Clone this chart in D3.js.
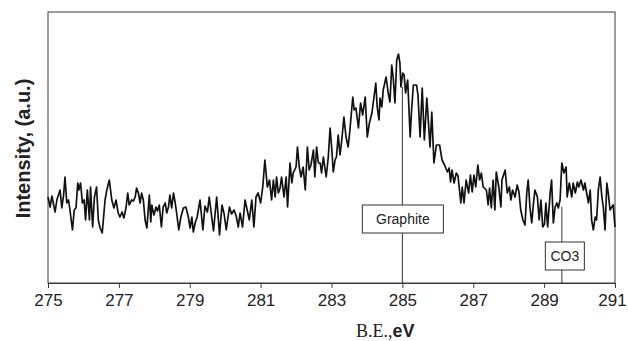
<!DOCTYPE html>
<html>
<head>
<meta charset="utf-8">
<script src="https://cdn.jsdelivr.net/npm/d3@7"></script>
<style>
  body { margin: 0; background: #fff; }
</style>
</head>
<body>
<div id="canvas"></div>
<script>
"use strict"

// DATA - binding energy (eV) and intensity (a.u.)
let bindingEnergy = [
  275.00, 275.06, 275.11, 275.20, 275.25, 275.34, 275.39, 275.44, 275.48, 275.53,
  275.58, 275.62, 275.69, 275.74, 275.79, 275.84, 275.87, 275.92, 275.97, 276.02,
  276.06, 276.11, 276.17, 276.20, 276.26, 276.31, 276.37, 276.42, 276.47, 276.53,
  276.61, 276.66, 276.73, 276.80, 276.86, 276.92, 276.98, 277.03, 277.09, 277.14,
  277.20, 277.25, 277.29, 277.36, 277.41, 277.46, 277.50, 277.55, 277.60, 277.64,
  277.69, 277.74, 277.79, 277.86, 277.90, 277.93, 277.99, 278.05, 278.09, 278.14,
  278.20, 278.25, 278.31, 278.35, 278.40, 278.44, 278.49, 278.54, 278.59, 278.63,
  278.69, 278.75, 278.82, 278.89, 278.96, 279.01, 279.06, 279.10, 279.16, 279.21,
  279.29, 279.37, 279.43, 279.50, 279.55, 279.62, 279.67, 279.76, 279.84, 279.91,
  279.97, 280.03, 280.12, 280.18, 280.25, 280.31, 280.37, 280.42, 280.49, 280.56,
  280.62, 280.68, 280.75, 280.81, 280.87, 280.93, 281.00, 281.06, 281.12, 281.19,
  281.25, 281.31, 281.36, 281.41, 281.45, 281.50, 281.55, 281.59, 281.66, 281.72,
  281.76, 281.83, 281.88, 281.92, 282.00, 282.04, 282.09, 282.14, 282.20, 282.26,
  282.32, 282.37, 282.42, 282.49, 282.53, 282.58, 282.63, 282.68, 282.72, 282.77,
  282.85, 282.91, 282.96, 283.01, 283.05, 283.10, 283.14, 283.19, 283.24, 283.29,
  283.35, 283.41, 283.47, 283.52, 283.60, 283.64, 283.69, 283.76, 283.82, 283.88,
  283.95, 284.01, 284.07, 284.14, 284.20, 284.25, 284.29, 284.34, 284.37, 284.42,
  284.46, 284.54, 284.60, 284.65, 284.70, 284.74, 284.79, 284.84, 284.89, 284.93,
  284.96, 285.01, 285.05, 285.09, 285.15, 285.22, 285.26, 285.31, 285.40, 285.44,
  285.50, 285.56, 285.62, 285.69, 285.78, 285.83, 285.89, 285.96, 286.05, 286.12,
  286.19, 286.27, 286.32, 286.36, 286.40, 286.46, 286.52, 286.57, 286.65, 286.69,
  286.74, 286.80, 286.87, 286.92, 286.97, 287.02, 287.07, 287.13, 287.18, 287.23,
  287.28, 287.37, 287.42, 287.46, 287.51, 287.56, 287.61, 287.65, 287.72, 287.78,
  287.81, 287.90, 287.96, 288.02, 288.06, 288.11, 288.18, 288.24, 288.29, 288.34,
  288.40, 288.46, 288.51, 288.55, 288.60, 288.65, 288.70, 288.74, 288.81, 288.86,
  288.91, 288.96, 289.01, 289.05, 289.10, 289.17, 289.21, 289.26, 289.31, 289.36,
  289.40, 289.45, 289.50, 289.56, 289.62, 289.65, 289.71, 289.78, 289.82, 289.88,
  289.94, 289.98, 290.04, 290.11, 290.15, 290.20, 290.25, 290.30, 290.34, 290.39,
  290.44, 290.48, 290.53, 290.58, 290.63, 290.67, 290.72, 290.77, 290.81, 290.86,
  290.91, 290.95, 291.00
];

let intensity = [
   86,  76,  87,  71,  83,  93,  75,  88, 106,  80,
   83,  73,  53,  73,  75, 100,  93, 100,  80,  83,
   63,  93,  63,  96,  56,  86,  96,  63,  55,  50,
   83,  93, 103,  83,  75,  83,  70,  66,  71,  65,
   75,  90,  78,  83,  82,  86,  95,  90,  80,  90,
   83,  63,  55,  88,  61,  78,  68,  76,  72,  78,
   56,  76,  80,  70,  76,  88,  75,  90,  80,  70,
   53,  66,  75,  76,  66,  55,  66,  51,  61,  66,
   83,  53,  77,  71,  86,  66,  52,  86,  48,  78,
   69,  53,  76,  69,  73,  67,  56,  70,  56,  83,
   73,  63,  83,  56,  86,  90,  80,  96, 123,  96,
  103,  83, 103,  86, 106,  90,  95, 106,  86, 106,
   76, 120, 100, 110, 116, 136, 116, 106, 116,  93,
  136, 113, 118, 133, 106, 136, 120, 120, 110, 126,
  106, 126, 155, 133, 111, 123, 126, 148, 128, 143,
  166, 146, 136, 153, 186, 173, 175, 155, 180, 168,
  186, 146, 160, 170, 186, 200, 176, 163, 185, 176,
  193, 206, 190, 181, 218, 206, 180, 223, 229, 220,
  196, 210, 208, 190, 203, 146, 173, 198, 198, 188,
  146, 195, 143, 185, 136, 171, 120, 138, 138, 123,
  118, 111, 115, 101, 113, 100, 110, 107,  80,  96,
   80, 103,  90, 108,  91, 108,  96, 118, 103, 110,
   96,  93,  78,  95,  75, 103,  73, 111,  96,  76,
  103, 113,  90,  96,  83,  93,  86,  98,  91,  73,
   63,  58,  90, 103,  76,  60,  80,  93,  86,  63,
   83,  56,  59,  80,  56,  90, 103,  60,  76,  80,
   75,  83, 120, 110, 116,  86, 100,  86, 100,  90,
  101,  96, 103,  93, 100,  90,  80,  93,  63,  53,
   66,  63,  93, 106,  86,  76,  53, 100,  90,  73,
   76,  78,  56
];

let xTicks = [275, 277, 279, 281, 283, 285, 287, 289, 291];

// peak markers
let peakLabels = ["Graphite", "CO3"];
let peakEnergy = [285, 289.5];
let peakTop = [196, 76];

// DRAWING CONFIG
let svgWidth = 628;
let svgHeight = 341;

let marginLeft = 48;
let marginRight = 13;
let marginTop = 12;
let marginBottom = 58;

let svg = d3.select("#canvas")
  .append("svg")
  .attr("width", svgWidth)
  .attr("height", svgHeight);

// SCALES
let xScale = d3.scaleLinear()
  .domain([275, 291])
  .range([marginLeft, svgWidth - marginRight]);

let yScale = d3.scaleLinear()
  .domain([0, 271])
  .range([svgHeight - marginBottom, marginTop]);

let points = bindingEnergy.map(function (e, i) {
  return { e: e, v: intensity[i] };
});

// frame
svg.append("rect")
  .attr("x", xScale(275))
  .attr("y", yScale(271))
  .attr("width", xScale(291) - xScale(275))
  .attr("height", yScale(0) - yScale(271))
  .attr("fill", "none")
  .attr("stroke", "#3a3a3a")
  .attr("stroke-width", 1);

// x axis with ticks pointing down
let xAxis = d3.axisBottom(xScale)
  .tickValues(xTicks)
  .tickSize(5)
  .tickSizeOuter(0)
  .tickFormat(d3.format("d"));

let gx = svg.append("g")
  .attr("transform", "translate(0," + yScale(0) + ")")
  .call(xAxis);

gx.select(".domain").attr("stroke", "#3a3a3a");
gx.selectAll(".tick line").attr("stroke", "#3a3a3a");
gx.selectAll(".tick text")
  .attr("y", 11)
  .attr("fill", "#222")
  .style("font-family", "'Liberation Sans', Arial, sans-serif")
  .style("font-size", "17px");

// last label sits against the right edge, nudge it in a little
gx.selectAll(".tick text")
  .filter(function (d) { return d == 291; })
  .attr("dx", -3);

// the spectrum
let line = d3.line()
  .x(function (d) { return xScale(d.e); })
  .y(function (d) { return yScale(d.v); });

svg.append("path")
  .datum(points)
  .attr("d", line)
  .attr("fill", "none")
  .attr("stroke", "#111")
  .attr("stroke-width", 1.7)
  .attr("stroke-linejoin", "round");

// PEAK MARKERS - vertical line down to axis with boxed label
let boxW = [81, 39];
let boxTop = [205, 242];
let boxShift = [0.5, 3];
let boxH = 28;

for (let i = 0; i < peakLabels.length; i++) {
  let px = xScale(peakEnergy[i]);
  svg.append("line")
    .attr("x1", px)
    .attr("x2", px)
    .attr("y1", yScale(peakTop[i]))
    .attr("y2", yScale(0))
    .attr("stroke", "#333")
    .attr("stroke-width", 1);

  let cx = px + boxShift[i];
  svg.append("rect")
    .attr("x", cx - boxW[i] / 2)
    .attr("y", boxTop[i])
    .attr("width", boxW[i])
    .attr("height", boxH)
    .attr("fill", "#fff")
    .attr("stroke", "#333")
    .attr("stroke-width", 1);

  svg.append("text")
    .attr("x", cx)
    .attr("y", boxTop[i] + boxH / 2 + 5)
    .attr("text-anchor", "middle")
    .style("font-family", "'Liberation Sans', Arial, sans-serif")
    .style("font-size", "14px")
    .attr("fill", "#222")
    .text(peakLabels[i]);
}

// AXIS LABELS
svg.append("text")
  .attr("transform", "translate(30," + ((marginTop + yScale(0)) / 2 + 1) + ") rotate(-90)")
  .attr("text-anchor", "middle")
  .style("font-family", "'Liberation Sans', Arial, sans-serif")
  .style("font-weight", "bold")
  .style("font-size", "20px")
  .attr("fill", "#222")
  .text("Intensity, (a.u.)");

let xLabel = svg.append("text")
  .attr("x", 356)
  .attr("y", 337)
  .attr("fill", "#222");

xLabel.append("tspan")
  .style("font-family", "'Liberation Serif', 'Times New Roman', serif")
  .style("font-size", "18px")
  .text("B.E.,");

xLabel.append("tspan")
  .style("font-family", "'Liberation Sans', Arial, sans-serif")
  .style("font-weight", "bold")
  .style("font-size", "18px")
  .text("eV");
</script>
</body>
</html>
